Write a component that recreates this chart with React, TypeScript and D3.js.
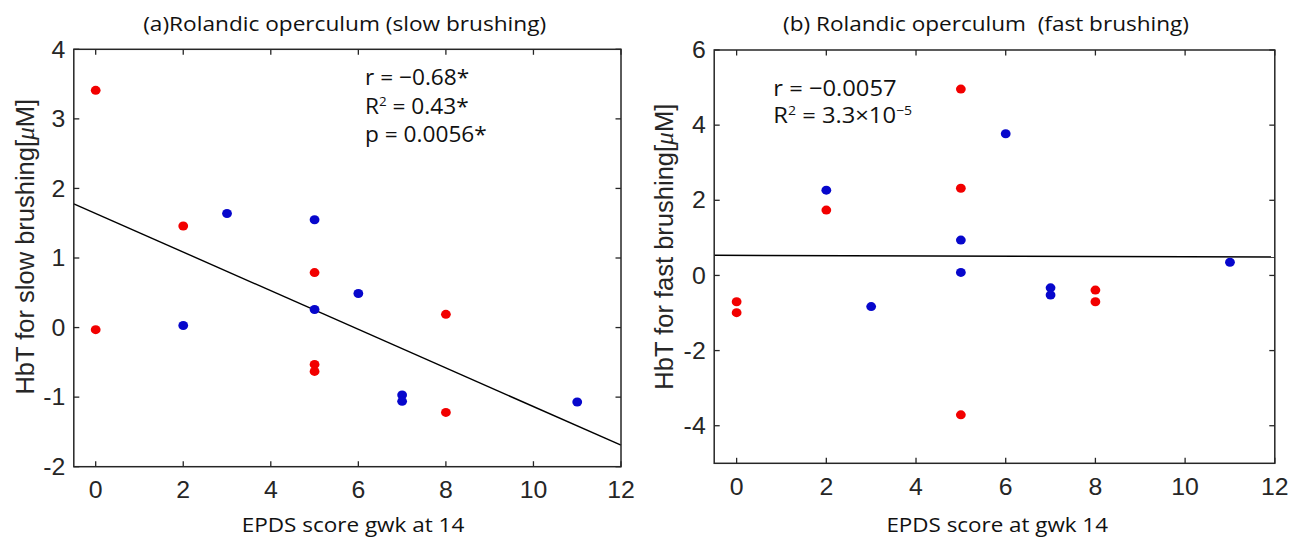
import React from "react";
import * as d3 from "d3";

// ---- data ----
const xTicks = [0, 2, 4, 6, 8, 10, 12];
const leftYTicks = [-2, -1, 0, 1, 2, 3, 4];
const rightYTicks = [-4, -2, 0, 2, 4];
const rightYTickLabels = [-4, -2, 0, 2, 4, 6];

const slowRedX = [0, 0, 2, 5, 5, 5, 8, 8];
const slowRedY = [3.41, -0.03, 1.46, 0.79, -0.53, -0.63, 0.19, -1.22];
const slowBlueX = [2, 3, 5, 5, 6, 7, 7, 11];
const slowBlueY = [0.03, 1.64, 1.55, 0.26, 0.49, -0.97, -1.06, -1.07];

const fastRedX = [0, 0, 2, 5, 5, 5, 8, 8];
const fastRedY = [-0.7, -0.99, 1.74, 4.96, 2.32, -3.71, -0.39, -0.7];
const fastBlueX = [2, 3, 5, 5, 6, 7, 7, 11];
const fastBlueY = [2.27, -0.83, 0.94, 0.08, 3.77, -0.33, -0.52, 0.35];

const RED = "#f20000";
const BLUE = "#0707cc";
const AX = "#262626";
const SANS = "'Liberation Sans', Arial, sans-serif";
const HUM = "'Open Sans', 'Noto Sans', sans-serif";

function fit(xs: number[], ys: number[]) {
  const mx = d3.mean(xs) as number;
  const my = d3.mean(ys) as number;
  let sxy = 0, sxx = 0;
  xs.forEach((x, i) => {
    sxy += (x - mx) * (ys[i] - my);
    sxx += (x - mx) * (x - mx);
  });
  const b = sxy / sxx;
  return (x: number) => my + b * (x - mx);
}

type PanelProps = {
  x0: number; x1: number; y0: number; y1: number;
  yDomain: [number, number];
  yTicks: number[];
  yTickLabels: number[];
  redX: number[]; redY: number[]; blueX: number[]; blueY: number[];
  title: string; titleX: number; titleW: number;
  xlabel: string; xlabelX: number; xlabelW: number;
  ylabel: string; ylabelX: number; ylabelY: number;
  ann: React.ReactNode;
};

function Panel(p: PanelProps) {
  const xs = d3.scaleLinear().domain([-0.5, 12]).range([p.x0, p.x1]);
  const ys = d3.scaleLinear().domain(p.yDomain).range([p.y1, p.y0]);
  const f = fit([...p.redX, ...p.blueX], [...p.redY, ...p.blueY]);
  const line = d3.line<number>().x((d) => xs(d)).y((d) => ys(f(d)));
  const tl = 5.5;
  return (
    <g>
      <path d={line([-0.5, 12]) as string} stroke="#000" strokeWidth={1.4} fill="none" />
      {p.redX.map((x, i) => (
        <ellipse key={"r" + i} cx={xs(x)} cy={ys(p.redY[i])} rx={4.9} ry={4.5} fill={RED} />
      ))}
      {p.blueX.map((x, i) => (
        <ellipse key={"b" + i} cx={xs(x)} cy={ys(p.blueY[i])} rx={4.9} ry={4.5} fill={BLUE} />
      ))}
      <rect x={p.x0} y={p.y0} width={p.x1 - p.x0} height={p.y1 - p.y0} fill="none" stroke={AX} strokeWidth={1.5} />
      {xTicks.map((t) => (
        <g key={"xt" + t}>
          <line x1={xs(t)} x2={xs(t)} y1={p.y1} y2={p.y1 - tl} stroke={AX} strokeWidth={1.3} />
          <line x1={xs(t)} x2={xs(t)} y1={p.y0} y2={p.y0 + tl} stroke={AX} strokeWidth={1.3} />
          <text transform={`translate(${xs(t)},${p.y1 + 31.5}) scale(1.08,1)`} textAnchor="middle"
            fontFamily={SANS} fontSize={23} fill={AX}>{t}</text>
        </g>
      ))}
      {p.yTicks.map((t) => (
        <g key={"yt" + t}>
          <line x1={p.x0} x2={p.x0 + tl} y1={ys(t)} y2={ys(t)} stroke={AX} strokeWidth={1.3} />
          <line x1={p.x1} x2={p.x1 - tl} y1={ys(t)} y2={ys(t)} stroke={AX} strokeWidth={1.3} />
        </g>
      ))}
      {p.yTickLabels.map((t) => (
        <text key={"yl" + t} transform={`translate(${p.x0 - 8.5},${ys(t) + 8.2}) scale(1.08,1)`} textAnchor="end"
          fontFamily={SANS} fontSize={23} fill={AX}>{t}</text>
      ))}
      <text x={p.titleX} y={31} textAnchor="middle" fontFamily={HUM} fontSize={20} fill="#111"
        textLength={p.titleW} lengthAdjust="spacingAndGlyphs" style={{ whiteSpace: "pre" }}>{p.title}</text>
      <text x={p.xlabelX} y={531.5} textAnchor="middle" fontFamily={HUM} fontSize={20} fill="#111"
        textLength={p.xlabelW} lengthAdjust="spacingAndGlyphs">{p.xlabel}</text>
      <text transform={`translate(${p.ylabelX},${p.ylabelY}) rotate(-90)`} textAnchor="middle"
        fontFamily={SANS} fontSize={25.5} fill={AX}>
        {p.ylabel}[<tspan fontFamily="'Liberation Serif', serif" fontStyle="italic">μ</tspan>M]
      </text>
      {p.ann}
    </g>
  );
}

export default function App() {
  const annStyle = { fontFamily: HUM, fontSize: 22, fill: "#111" } as const;
  const leftAnn = (
    <g>
      <text transform="translate(365,85) scale(1.03,1)" {...annStyle}>r = −0.68*</text>
      <text transform="translate(365,114.3) scale(1.03,1)" {...annStyle}>
        R<tspan fontSize={13} dy={-8.5}>2</tspan><tspan dy={8.5}> = 0.43*</tspan>
      </text>
      <text transform="translate(365,141.7) scale(1.03,1)" {...annStyle}>p = 0.0056*</text>
    </g>
  );
  const rightAnn = (
    <g>
      <text transform="translate(773.3,96) scale(1.08,1)" {...annStyle}>r = −0.0057</text>
      <text transform="translate(773.3,123.3) scale(1.08,1)" {...annStyle}>
        R<tspan fontSize={13} dy={-8.5}>2</tspan><tspan dy={8.5}> = 3.3×10</tspan>
        <tspan fontSize={13} dy={-8.5}>−5</tspan>
      </text>
    </g>
  );
  return (
    <svg width={1298} height={538} style={{ position: "absolute", left: 0, top: 0, background: "#fff" }}>
      <rect width={1298} height={538} fill="#fff" />
      <Panel x0={73.8} x1={621} y0={49.3} y1={466.7} yDomain={[-2, 4]}
        yTicks={leftYTicks} yTickLabels={leftYTicks}
        redX={slowRedX} redY={slowRedY} blueX={slowBlueX} blueY={slowBlueY}
        title="(a)Rolandic operculum (slow brushing)" titleX={344.7} titleW={403}
        xlabel="EPDS score gwk at 14" xlabelX={353} xlabelW={222.6}
        ylabel="HbT for slow brushing" ylabelX={33.5} ylabelY={246.7}
        ann={leftAnn} />
      <Panel x0={714.2} x1={1274.8} y0={50} y1={463.3} yDomain={[-5, 6]}
        yTicks={rightYTicks.concat([6])} yTickLabels={rightYTickLabels}
        redX={fastRedX} redY={fastRedY} blueX={fastBlueX} blueY={fastBlueY}
        title="(b) Rolandic operculum  (fast brushing)" titleX={986} titleW={406}
        xlabel="EPDS score at gwk 14" xlabelX={997.2} xlabelW={221.5}
        ylabel="HbT for fast brushing" ylabelX={673.3} ylabelY={246.7}
        ann={rightAnn} />
    </svg>
  );
}
